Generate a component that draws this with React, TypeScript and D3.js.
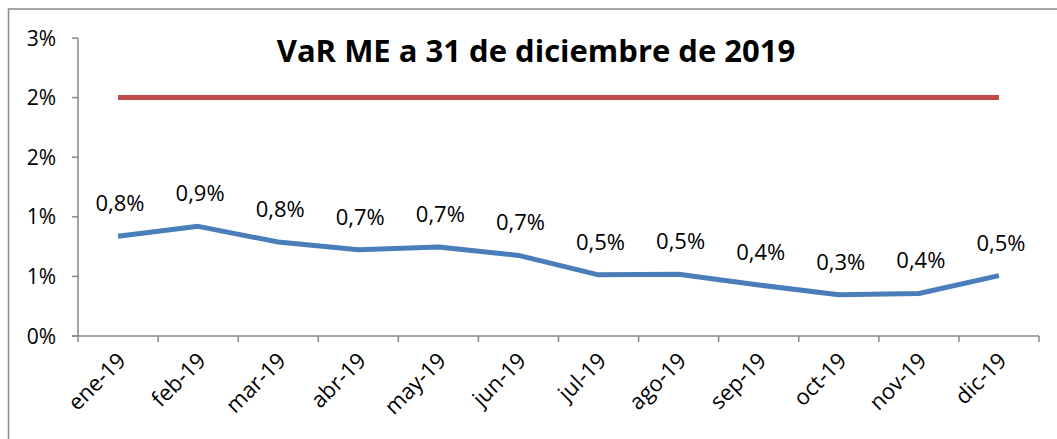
import React from 'react';
import * as d3 from 'd3';

const months = ['ene-19', 'feb-19', 'mar-19', 'abr-19', 'may-19', 'jun-19', 'jul-19', 'ago-19', 'sep-19', 'oct-19', 'nov-19', 'dic-19'];
const varValues = [0.836, 0.92, 0.788, 0.724, 0.746, 0.676, 0.513, 0.518, 0.428, 0.346, 0.357, 0.507];
const limitValues = [2, 2, 2, 2, 2, 2, 2, 2, 2, 2, 2, 2];
const yTicks = [0, 0.5, 1, 1.5, 2, 2.5];

const W = 1057;
const H = 439;
const margin = { top: 38, right: 18, bottom: 103, left: 78 };
const font = '"Open Sans", sans-serif';

const App = () => {
  const x = d3.scaleBand().domain(months).range([margin.left, W - margin.right]);
  const y = d3.scaleLinear().domain([0, 2.5]).range([H - margin.bottom, margin.top]);
  const cx = (m: string) => (x(m) as number) + x.bandwidth() / 2;

  const line = d3.line<number>()
    .x((_, i) => cx(months[i]))
    .y(d => y(d));

  const axisColor = '#878787';
  const y0 = y(0);
  const fmt = (v: number) => v.toFixed(1).replace('.', ',') + '%';
  const tickFmt = (v: number) => Math.round(v) + '%';
  const xEdges = months.map(m => x(m) as number).concat([W - margin.right]);

  return (
    <svg width={W} height={H} style={{ position: 'absolute', left: 0, top: 0 }}>
      <rect x={0} y={0} width={W} height={H} fill="#fff" />
      <rect x={8.5} y={9} width={W + 20} height={H + 20} fill="none" stroke="#8c8c8c" strokeWidth={1.5} />

      <text x={536} y={62} textAnchor="middle" fontFamily={font} fontWeight="bold" fontSize={31} fill="#000">
        VaR ME a 31 de diciembre de 2019
      </text>

      {/* y axis */}
      <line x1={margin.left} x2={margin.left} y1={y(2.5)} y2={y0} stroke={axisColor} strokeWidth={1.5} />
      {yTicks.map(t => (
        <g key={t}>
          <line x1={margin.left - 6} x2={margin.left} y1={y(t)} y2={y(t)} stroke={axisColor} strokeWidth={1.5} />
          <text x={margin.left - 22} y={y(t)} dy="0.36em" textAnchor="end" fontFamily={font} fontSize={21} fill="#000">
            {tickFmt(t)}
          </text>
        </g>
      ))}

      {/* x axis */}
      <line x1={margin.left - 6} x2={W - margin.right} y1={y0} y2={y0} stroke={axisColor} strokeWidth={1.5} />
      {xEdges.map((e, i) => (
        <line key={i} x1={e} x2={e} y1={y0} y2={y0 + 6} stroke={axisColor} strokeWidth={1.5} />
      ))}
      {months.map(m => (
        <text key={m} transform={`translate(${cx(m) + 9},${y0 + 26}) rotate(-45)`} textAnchor="end"
          fontFamily={font} fontSize={22} fill="#000">
          {m}
        </text>
      ))}

      <path d={line(limitValues) || ''} fill="none" stroke="#be4b48" strokeWidth={5} />
      <path d={line(varValues) || ''} fill="none" stroke="#4a7ebb" strokeWidth={5} strokeLinejoin="round" />

      {varValues.map((v, i) => (
        <text key={i} x={cx(months[i]) + 2} y={y(v) - 25} textAnchor="middle" fontFamily={font} fontSize={22} fill="#000">
          {fmt(v)}
        </text>
      ))}
    </svg>
  );
};

export default App;
